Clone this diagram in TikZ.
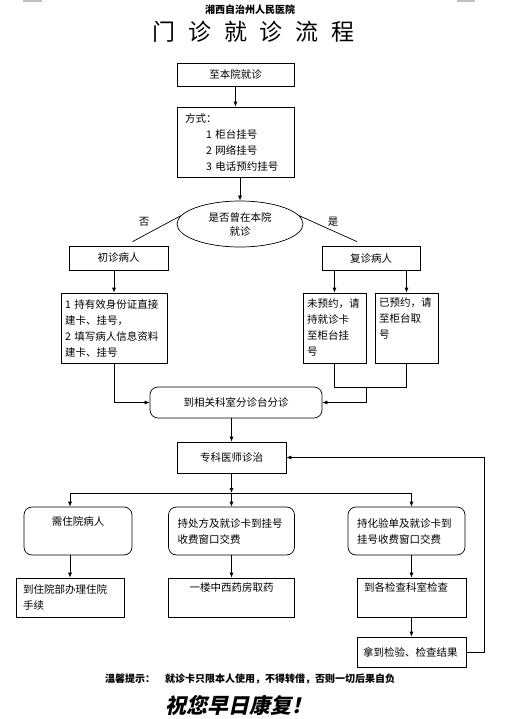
\documentclass[tikz,border=0pt]{standalone}
\usepackage{fontspec}
\setmainfont{Noto Sans CJK SC}
\newfontfamily\kaiti[FakeSlant=0.22]{Noto Sans CJK SC}
\usetikzlibrary{shapes.geometric,arrows.meta,calc}

\begin{document}
\begin{tikzpicture}[x=1pt,y=-1pt,line width=0.7pt,
  box/.style={draw,inner sep=0pt,align=center,font=\fontsize{10.5}{16}\selectfont},
  rbox/.style={box,rounded corners=8pt},
  arr/.style={-{Latex[length=5pt,width=4pt]}}]
\useasboundingbox (0,0) rectangle (505,719);
\draw[gray!50,line width=1.5pt] (23,1) -- (42,1);
\draw[gray!50,line width=1.5pt] (457,1) -- (475,1);
\node (hosp) at (250,10) [font=\fontsize{10}{10}\selectfont\bfseries] {湘西自治州人民医院};
\node (title) at (253.5,32) [font=\fontsize{23}{23}\selectfont] {门\hspace{0.55em}诊\hspace{0.55em}就\hspace{0.55em}诊\hspace{0.55em}流\hspace{0.55em}程};
\node (visit) at (235.5,74.5) [box,minimum width=117pt,minimum height=23pt] {至本院就诊};
\node (mode) at (235.5,142) [box,align=left,text width=101pt,inner xsep=8pt,minimum height=70pt]
  {方式：\\\hspace{21pt}1 柜台挂号\\\hspace{21pt}2 网络挂号\\\hspace{21pt}3 电话预约挂号};
\node (ask) at (240,224) [draw,ellipse,inner sep=0pt,minimum width=126pt,minimum height=46pt,
  align=center,font=\fontsize{10.5}{14}\selectfont] {是否曾在本院\\就诊};
\node (first) at (118.5,258) [box,minimum width=99pt,minimum height=24pt] {初诊病人};
\node (second) at (371,258) [box,minimum width=98pt,minimum height=24pt] {复诊病人};
\node (no) at (144,222) [font=\fontsize{10.5}{10}\selectfont] {否};
\node (yes) at (333,222) [font=\fontsize{10.5}{10}\selectfont] {是};
\node (new) at (114,328) [box,align=left,text width=98pt,inner xsep=4pt,minimum height=70pt]
  {1 持有效身份证直接\\建卡、挂号，\\2 填写病人信息资料\\建卡、挂号};
\node (unbooked) at (334.5,328) [box,align=left,text width=55pt,inner xsep=4pt,minimum height=70pt]
  {未预约，请\\持就诊卡\\至柜台挂\\号};
\node (booked) at (406.5,328) [box,align=left,text width=55pt,inner xsep=4pt,minimum height=70pt]
  {已预约，请\\至柜台取\\号\\\strut};
\node (triage) at (236,402.5) [rbox,minimum width=172pt,minimum height=31pt] {到相关科室分诊台分诊};
\node (doctor) at (231.5,457.5) [box,minimum width=109pt,minimum height=31pt] {专科医师诊治};
\node (admit) at (78,531) [rbox,minimum width=108pt,minimum height=48pt] {需住院病人\\\strut};
\node (pay) at (231.5,531) [rbox,align=left,text width=108pt,inner xsep=9pt,minimum height=48pt]
  {持处方及就诊卡到挂号\\收费窗口交费};
\node (lab) at (406.5,531) [rbox,align=left,text width=99pt,inner xsep=9pt,minimum height=48pt]
  {持化验单及就诊卡到\\挂号收费窗口交费};
\node (ward) at (70,597.5) [box,align=left,text width=94pt,inner xsep=7pt,minimum height=39pt]
  {到住院部办理住院\\手续};
\node (drug) at (231.5,597.5) [box,minimum width=126pt,minimum height=39pt] {一楼中西药房取药\\\strut};
\node (check) at (411.5,597.5) [box,align=left,text width=95pt,inner xsep=7pt,minimum height=39pt]
  {到各检查科室检查\\\strut};
\node (result) at (411.5,652) [box,align=left,text width=97pt,inner xsep=6pt,minimum height=30pt]
  {拿到检验、检查结果};
\coordinate (join) at (366,387);
\coordinate (split) at (231.5,493);
\draw[arr] (visit) -- (mode);
\draw[arr] (mode.south -| ask.north) -- (ask.north);
\draw (ask.172) -- ($(first.north)+(14,-4)$);
\draw (ask.8) -- ($(second.north)+(-14,-4)$);
\draw[arr] (first.south -| new.north) -- (new.north);
\draw[arr] (second.south -| unbooked.north) -- (unbooked.north);
\draw[arr] (second.south -| booked.north) -- (booked.north);
\draw[arr] (new.south) |- (triage.west);
\draw (unbooked.south) |- (join);
\draw (booked.south) |- (join);
\draw[arr] (join) |- (triage.east);
\draw[arr] (triage.south -| doctor.north) -- (doctor.north);
\draw[arr] (doctor.south) -- (split);
\draw[arr] (split) -- (pay.north);
\draw[arr] (split) -| (ward.north |- admit.north);
\draw[arr] (split) -| (check.north |- lab.north);
\draw[arr] (admit.south -| ward.north) -- (ward.north);
\draw[arr] (pay) -- (drug);
\draw[arr] (lab.south -| check.north) -- (check.north);
\draw[arr] (check) -- (result);
\draw[arr] (result.east) -- ++(18,0) |- (doctor.east);
\node (tip) at (250,679) [font=\fontsize{10}{10}\selectfont\bfseries] {温馨提示：\hspace{10pt}就诊卡只限本人使用，不得转借，否则一切后果自负};
\node (wish) at (238.5,705) [font=\fontsize{21}{21}\selectfont\kaiti\bfseries] {祝您早日康复！};
\end{tikzpicture}
\end{document}
